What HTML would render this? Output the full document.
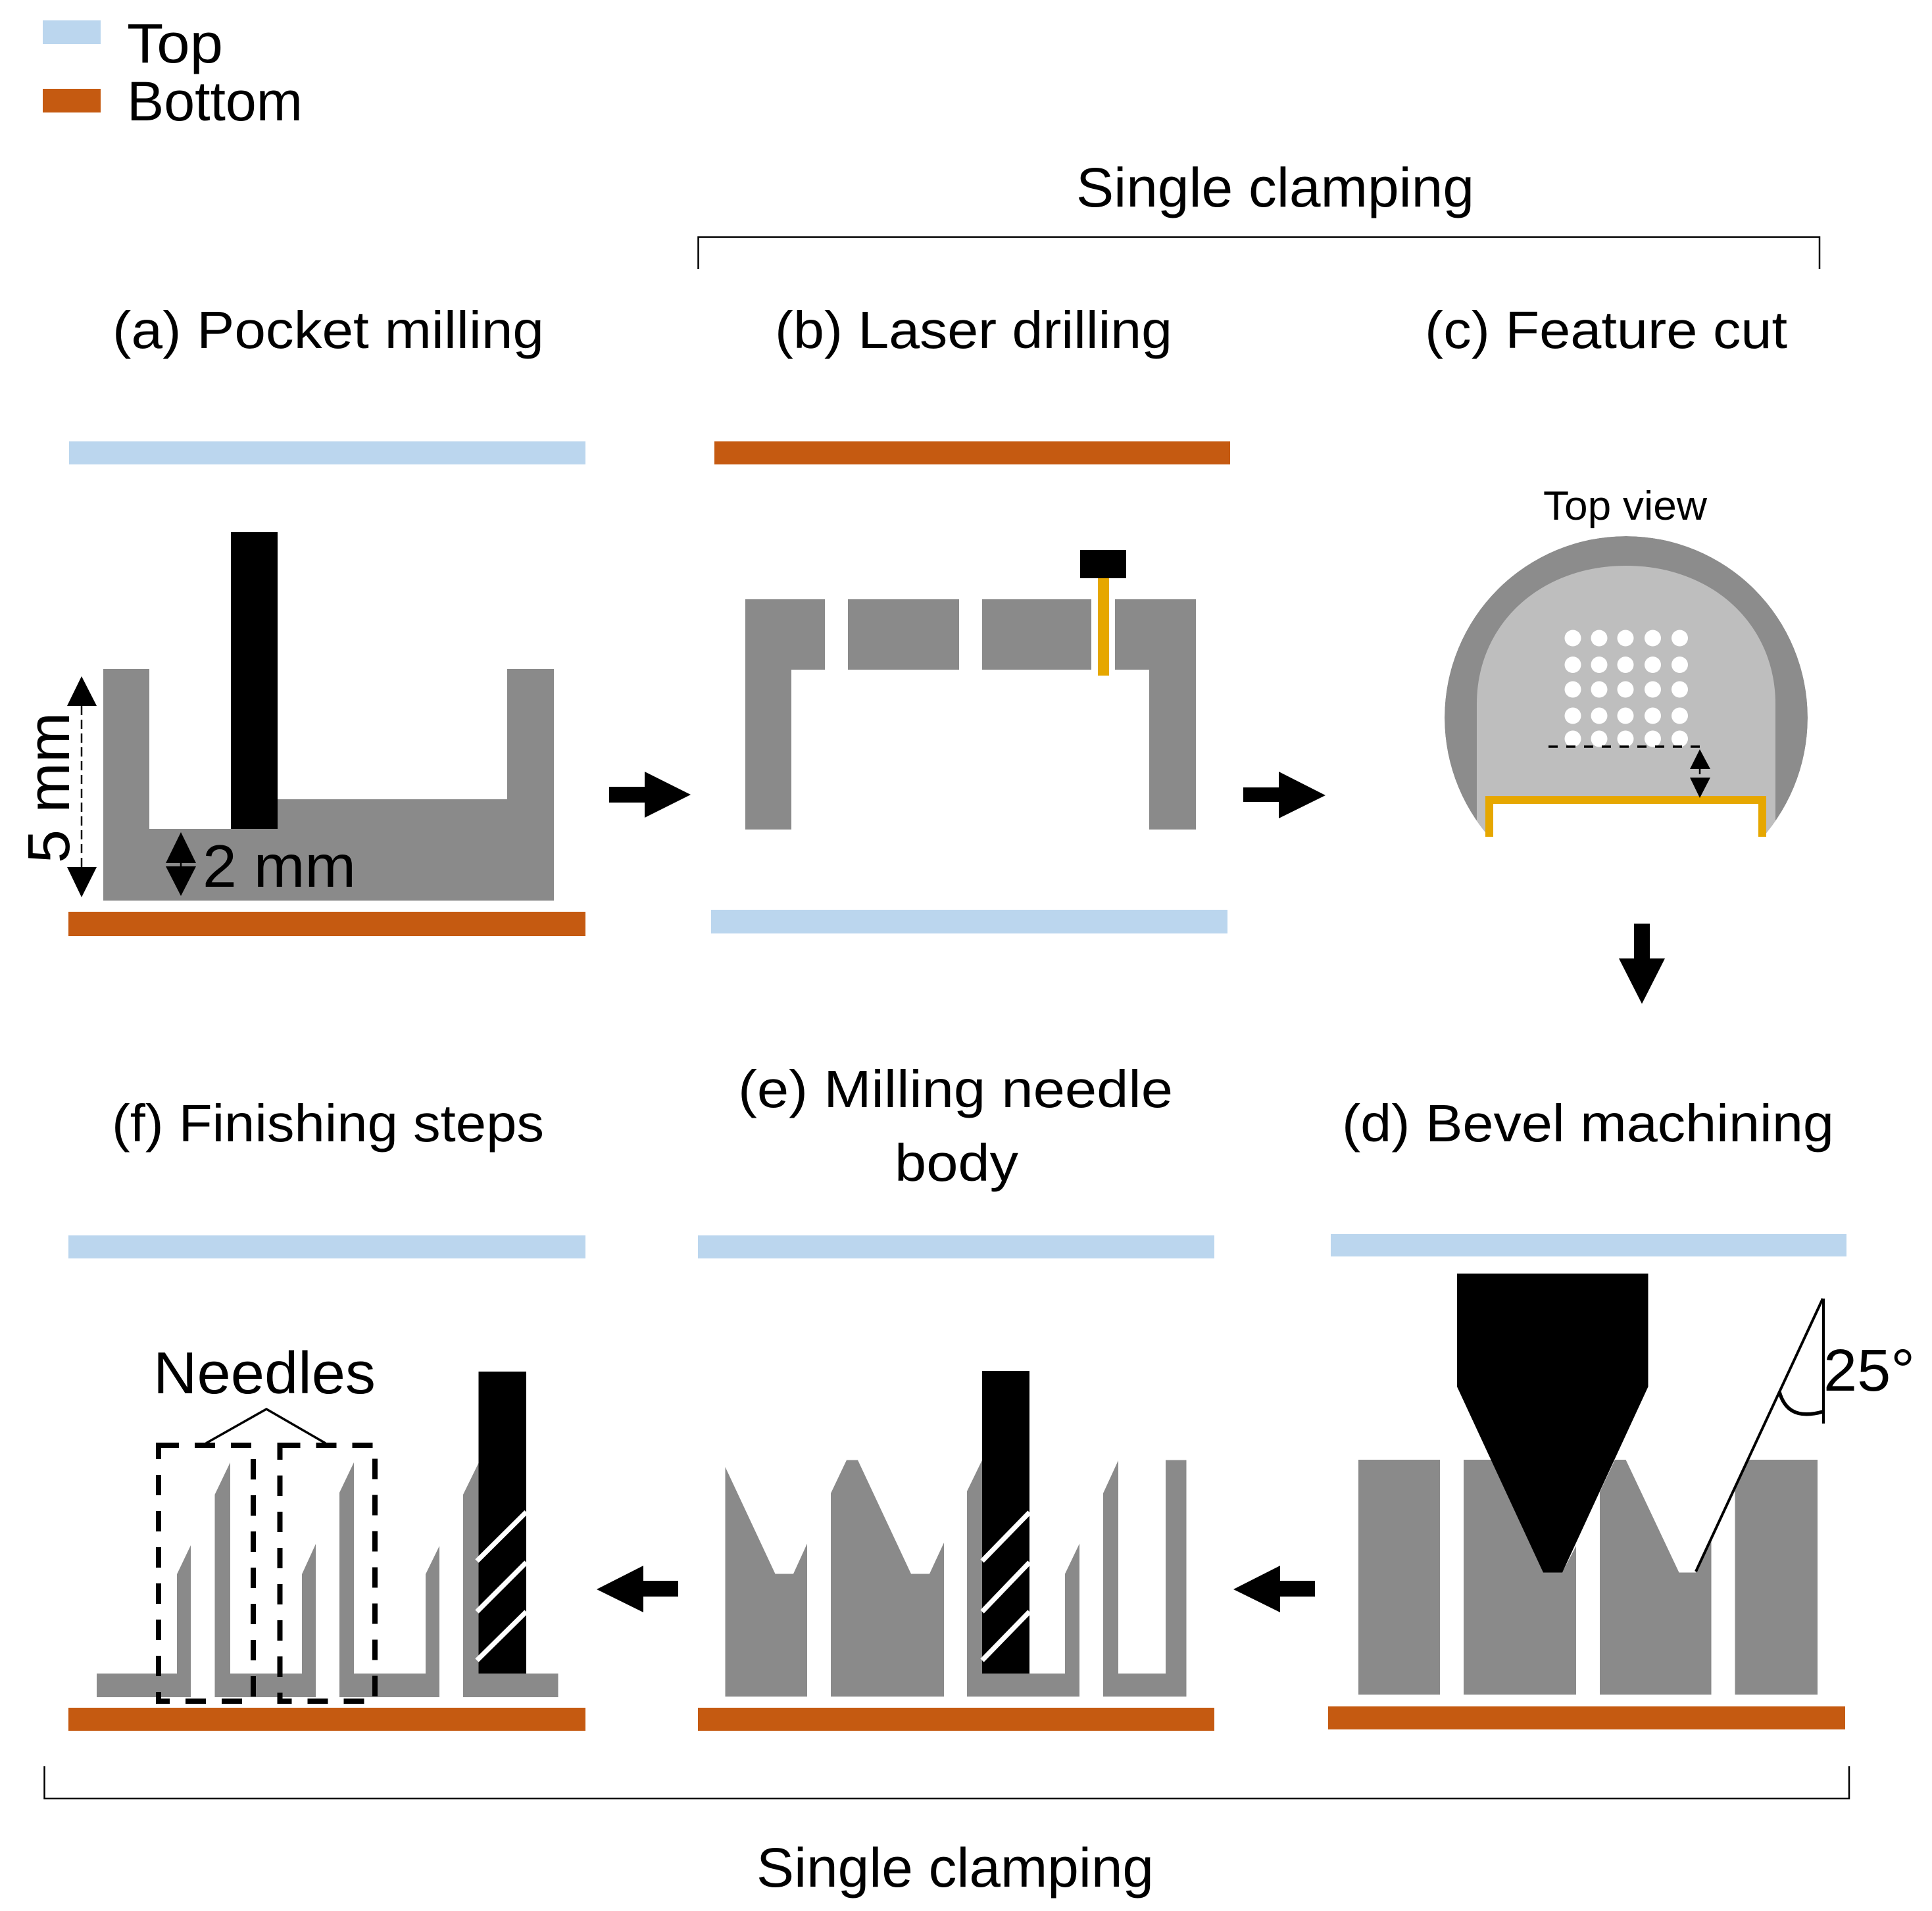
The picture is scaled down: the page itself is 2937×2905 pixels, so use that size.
<!DOCTYPE html>
<html>
<head>
<meta charset="utf-8">
<style>
html,body{margin:0;padding:0;background:#fff;width:2937px;height:2905px;overflow:hidden}
svg{display:block}
text{font-family:"Liberation Sans",sans-serif;fill:#000}
.g{fill:#8a8a8a}.k{fill:#000}.b{fill:#bbd6ee}.o{fill:#c55a11}
.w{stroke:#fff;stroke-width:7.5;fill:none}
</style>
</head>
<body>
<svg xmlns="http://www.w3.org/2000/svg" width="2937" height="2905" viewBox="0 0 2937 2905">
<defs><clipPath id="c"><circle cx="2472" cy="1091" r="276"/></clipPath></defs>

<!-- legend -->
<rect class="b" x="65" y="31" width="88" height="36"/>
<rect class="o" x="65" y="135" width="88" height="36"/>
<text x="193" y="95" font-size="84" textLength="146" lengthAdjust="spacingAndGlyphs">Top</text>
<text x="193" y="183" font-size="84" textLength="267" lengthAdjust="spacingAndGlyphs">Bottom</text>

<!-- brackets -->
<path d="M1061.500,409 V360.500 H2766 V409" fill="none" stroke="#000" stroke-width="2.500"/>
<path d="M67.500,2685 V2734 H2811 V2685" fill="none" stroke="#000" stroke-width="2.500"/>
<text x="1636" y="314" font-size="84" textLength="605" lengthAdjust="spacingAndGlyphs">Single clamping</text>
<text x="1150" y="2868" font-size="84" textLength="604" lengthAdjust="spacingAndGlyphs">Single clamping</text>

<!-- headers -->
<text x="171" y="529" font-size="80" textLength="656" lengthAdjust="spacingAndGlyphs">(a) Pocket milling</text>
<text x="1178" y="529" font-size="80" textLength="604" lengthAdjust="spacingAndGlyphs">(b) Laser drilling</text>
<text x="2166" y="529" font-size="80" textLength="551" lengthAdjust="spacingAndGlyphs">(c) Feature cut</text>
<text x="170" y="1735" font-size="80" textLength="657" lengthAdjust="spacingAndGlyphs">(f) Finishing steps</text>
<text x="1122" y="1683" font-size="80" textLength="661" lengthAdjust="spacingAndGlyphs">(e) Milling needle</text>
<text x="1360" y="1795" font-size="80" textLength="188" lengthAdjust="spacingAndGlyphs">body</text>
<text x="2040" y="1735" font-size="80" textLength="748" lengthAdjust="spacingAndGlyphs">(d) Bevel machining</text>

<!-- bars -->
<rect class="b" x="105" y="671" width="785" height="35"/>
<rect class="o" x="1086" y="671" width="784" height="35"/>
<rect class="o" x="104" y="1386" width="786" height="37"/>
<rect class="b" x="1081" y="1383" width="785" height="36"/>
<rect class="b" x="104" y="1878" width="786" height="35"/>
<rect class="b" x="1061" y="1878" width="785" height="35"/>
<rect class="b" x="2023" y="1876" width="784" height="34"/>
<rect class="o" x="104" y="2596" width="786" height="35"/>
<rect class="o" x="1061" y="2596" width="785" height="35"/>
<rect class="o" x="2019" y="2594" width="786" height="35"/>

<!-- (a) -->
<polygon class="g" points="157,1017 227,1017 227,1260 422,1260 422,1215 771,1215 771,1017 842,1017 842,1369 157,1369"/>
<rect class="k" x="351" y="809" width="71" height="451"/>
<polygon class="k" points="124,1028 147,1073 102,1073"/>
<polygon class="k" points="124,1364 147,1318 102,1318"/>
<line x1="124" y1="1073" x2="124" y2="1318" stroke="#000" stroke-width="2.500" stroke-dasharray="14 7"/>
<polygon class="k" points="275,1265 298,1312 252,1312"/>
<polygon class="k" points="275,1362 298,1317 252,1317"/>
<line x1="275" y1="1310" x2="275" y2="1319" stroke="#000" stroke-width="2.500"/>
<text x="308" y="1348" font-size="91" textLength="233" lengthAdjust="spacingAndGlyphs">2 mm</text>
<text transform="translate(105,1312) rotate(-90)" font-size="90" textLength="229" lengthAdjust="spacingAndGlyphs">5 mm</text>

<!-- (b) -->
<polygon class="g" points="1133,911 1254,911 1254,1018 1203,1018 1203,1261 1133,1261"/>
<rect class="g" x="1289" y="911" width="169" height="107"/>
<rect class="g" x="1493" y="911" width="166" height="107"/>
<polygon class="g" points="1695,911 1818,911 1818,1261 1747,1261 1747,1018 1695,1018"/>
<rect class="k" x="1642" y="836" width="70" height="43"/>
<rect x="1669" y="879" width="17" height="148" fill="#e6a700"/>

<!-- arrows -->
<polygon class="k" points="926,1196 980,1196 980,1173 1050,1208 980,1243 980,1220 926,1220"/>
<polygon class="k" points="1890,1197 1944,1197 1944,1173 2015,1209 1944,1244 1944,1219 1890,1219"/>
<polygon class="k" points="2484,1404 2508,1404 2508,1457 2531,1457 2496,1526 2461,1457 2484,1457"/>
<polygon class="k" points="1031,2403 978,2403 978,2380 907,2416 978,2451 978,2427 1031,2427"/>
<polygon class="k" points="1999,2403 1946,2403 1946,2380 1875,2416 1946,2451 1946,2427 1999,2427"/>

<!-- (c) -->
<text x="2346" y="790" font-size="62" textLength="249" lengthAdjust="spacingAndGlyphs">Top view</text>
<g clip-path="url(#c)">
<circle cx="2472" cy="1091" r="276" fill="#8c8c8c"/>
<path d="M2245,1300 V1070 C2245,950 2340,860 2472,860 C2604,860 2699,950 2699,1070 V1300 Z" fill="#bebebe"/>
</g>
<rect x="2258" y="1216" width="427" height="170" fill="#fff"/>
<g fill="#fff">
<circle cx="2391" cy="970" r="12.500"/><circle cx="2431" cy="970" r="12.500"/><circle cx="2471" cy="970" r="12.500"/><circle cx="2512.500" cy="970" r="12.500"/><circle cx="2553.500" cy="970" r="12.500"/>
<circle cx="2391" cy="1010.500" r="12.500"/><circle cx="2431" cy="1010.500" r="12.500"/><circle cx="2471" cy="1010.500" r="12.500"/><circle cx="2512.500" cy="1010.500" r="12.500"/><circle cx="2553.500" cy="1010.500" r="12.500"/>
<circle cx="2391" cy="1048" r="12.500"/><circle cx="2431" cy="1048" r="12.500"/><circle cx="2471" cy="1048" r="12.500"/><circle cx="2512.500" cy="1048" r="12.500"/><circle cx="2553.500" cy="1048" r="12.500"/>
<circle cx="2391" cy="1088" r="12.500"/><circle cx="2431" cy="1088" r="12.500"/><circle cx="2471" cy="1088" r="12.500"/><circle cx="2512.500" cy="1088" r="12.500"/><circle cx="2553.500" cy="1088" r="12.500"/>
<circle cx="2391" cy="1123" r="12.500"/><circle cx="2431" cy="1123" r="12.500"/><circle cx="2471" cy="1123" r="12.500"/><circle cx="2512.500" cy="1123" r="12.500"/><circle cx="2553.500" cy="1123" r="12.500"/>
</g>
<line x1="2354" y1="1135" x2="2589" y2="1135" stroke="#000" stroke-width="3.500" stroke-dasharray="14 13"/>
<path d="M2264,1272 V1216 H2679 V1272" fill="none" stroke="#e6a700" stroke-width="12"/>
<polygon class="k" points="2584,1139 2600,1169 2569,1169"/>
<line x1="2584" y1="1169" x2="2584" y2="1177" stroke="#000" stroke-width="2.500"/>
<polygon class="k" points="2584,1213 2600,1182 2569,1182"/>

<!-- (d) -->
<rect class="g" x="2065" y="2219" width="124" height="357"/>
<polygon class="g" points="2225,2219 2268,2219 2346,2390 2375,2390 2396,2350 2396,2576 2225,2576"/>
<polygon class="g" points="2432,2268 2455,2219 2471.500,2219 2552.500,2390.500 2578,2390.500 2601.500,2342 2601.500,2576 2432,2576"/>
<polygon class="g" points="2637.500,2261 2656,2219 2763,2219 2763,2576 2637.500,2576"/>
<polygon class="k" points="2215,1936 2505.500,1936 2505.500,2108 2375,2390.500 2346,2390.500 2215,2108"/>
<line x1="2578" y1="2389" x2="2771" y2="1974" stroke="#000" stroke-width="4"/>
<line x1="2772" y1="1974" x2="2772" y2="2164" stroke="#000" stroke-width="4"/>
<path d="M2705,2116 C2712,2140 2728,2158 2771,2146" fill="none" stroke="#000" stroke-width="5.500"/>
<text x="2772" y="2114" font-size="90" textLength="139" lengthAdjust="spacingAndGlyphs">25°</text>

<!-- (e) -->
<polygon class="g" points="1102.500,2230 1178.500,2392.500 1206,2392.500 1227,2346.500 1227,2579 1102.500,2579"/>
<polygon class="g" points="1263,2270 1287,2219.500 1304,2219.500 1385,2392.500 1413,2392.500 1435,2345 1435,2579 1263,2579"/>
<polygon class="g" points="1470,2267 1493,2219.500 1493,2544 1619,2544 1619,2392.500 1641,2346.500 1641,2579 1470,2579"/>
<rect class="k" x="1493" y="2084" width="72" height="460"/>
<line class="w" x1="1493" y1="2373" x2="1565" y2="2299"/>
<line class="w" x1="1493" y1="2450" x2="1565" y2="2375"/>
<line class="w" x1="1493" y1="2524" x2="1565" y2="2450"/>
<polygon class="g" points="1677,2270 1700,2220 1700,2544 1772,2544 1772,2219.500 1803.500,2219.500 1803.500,2579 1677,2579"/>

<!-- (f) -->
<polygon class="g" points="147,2544 269,2544 269,2393 290,2349 290,2580 147,2580"/>
<polygon class="g" points="326.500,2272 350,2223 350,2544 459,2544 459,2393 480,2347 480,2580 326.500,2580"/>
<polygon class="g" points="516,2269 538,2223 538,2544 647,2544 647,2393 668,2350 668,2580 516,2580"/>
<polygon class="g" points="704,2272 727.500,2224 727.500,2544 848.500,2544 848.500,2580 704,2580"/>
<rect class="k" x="727.500" y="2085" width="72.500" height="459"/>
<line class="w" x1="725" y1="2373" x2="800" y2="2298.500"/>
<line class="w" x1="725" y1="2450" x2="800" y2="2375"/>
<line class="w" x1="725" y1="2524" x2="800" y2="2450"/>
<rect x="241" y="2197" width="144" height="389" fill="none" stroke="#000" stroke-width="8" stroke-dasharray="31 24"/>
<rect x="425.500" y="2197" width="144.500" height="389" fill="none" stroke="#000" stroke-width="8" stroke-dasharray="31 24"/>
<path d="M313,2194 L405,2142 L495,2194" fill="none" stroke="#000" stroke-width="3.500"/>
<text x="233" y="2118" font-size="90" textLength="338" lengthAdjust="spacingAndGlyphs">Needles</text>
</svg>
</body>
</html>
